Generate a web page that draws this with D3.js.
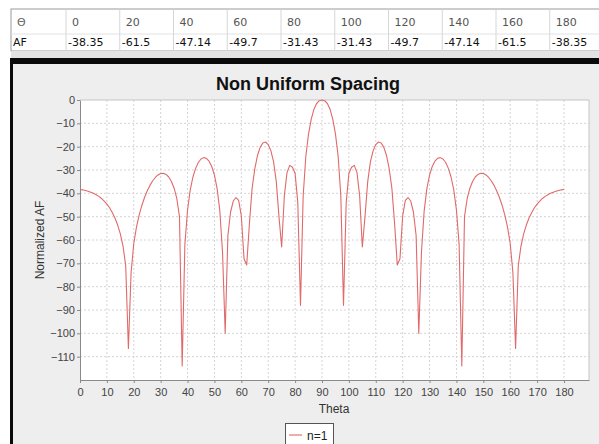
<!DOCTYPE html>
<html>
<head>
<meta charset="utf-8">
<script src="https://cdn.jsdelivr.net/npm/d3@7"></script>
<style>
  body { margin: 0; background: #ffffff; }
  text { font-family: "Liberation Sans", Arial, sans-serif; }
</style>
</head>
<body>
<script>
'use strict';

// table at the top
const tableTheta = ["0", "20", "40", "60", "80", "100", "120", "140", "160", "180"];
const tableAF = ["-38.35", "-61.5", "-47.14", "-49.7", "-31.43", "-31.43", "-49.7", "-47.14", "-61.5", "-38.35"];

// curve samples, one per degree
const theta = d3.range(0, 181);
const afValues = [
  -38.35, -38.5, -38.8, -39.1, -39.5, -40.0, -40.6, -41.3, -42.2, -43.3,
  -44.6, -46.2, -48.2, -50.6, -53.6, -57.4, -62.6, -71.0, -106.5, -74.0,
  -61.5, -54.5, -49.3, -45.2, -41.8, -39.0, -36.6, -34.7, -33.2, -32.1,
  -31.5, -31.4, -31.9, -33.0, -34.9, -37.8, -42.2, -50.0, -114.0, -62.0,
  -47.14, -38.5, -33.0, -29.3, -26.8, -25.3, -24.7, -25.0, -26.2, -28.5,
  -32.2, -38.0, -47.5, -65.0, -100.0, -58.0, -48.0, -43.3, -41.8, -43.0,
  -49.7, -68.0, -70.7, -53.0, -38.0, -29.5, -23.8, -20.3, -18.4, -18.0,
  -19.1, -21.8, -26.5, -35.0, -50.0, -63.0, -41.0, -31.0, -28.0, -28.8,
  -31.43, -44.0, -88.0, -41.0, -24.0, -14.5, -8.2, -4.0, -1.5, -0.3,
  0,
  -0.3, -1.5, -4.0, -8.2, -14.5, -24.0, -41.0, -88.0, -44.0, -31.43,
  -28.8, -28.0, -31.0, -41.0, -63.0, -50.0, -35.0, -26.5, -21.8, -19.1,
  -18.0, -18.4, -20.3, -23.8, -29.5, -38.0, -53.0, -70.7, -68.0, -49.7,
  -43.0, -41.8, -43.3, -48.0, -58.0, -100.0, -65.0, -47.5, -38.0, -32.2,
  -28.5, -26.2, -25.0, -24.7, -25.3, -26.8, -29.3, -33.0, -38.5, -47.14,
  -62.0, -114.0, -50.0, -42.2, -37.8, -34.9, -33.0, -31.9, -31.4, -31.5,
  -32.1, -33.2, -34.7, -36.6, -39.0, -41.8, -45.2, -49.3, -54.5, -61.5,
  -74.0, -106.5, -71.0, -62.6, -57.4, -53.6, -50.6, -48.2, -46.2, -44.6,
  -43.3, -42.2, -41.3, -40.6, -40.0, -39.5, -39.1, -38.8, -38.5, -38.35
];

const xTicks = d3.range(0, 181, 10);
const yTicks = d3.range(0, -111, -10);
const seriesName = "n=1";

(function () {

  let svg = "";

  window.onload = function () {
    svg = d3.select('body')
      .append('svg')
      .attr('width', 599)
      .attr('height', 444);

    makeTable();
    makePanel();

    let map = drawAxes({ min: 80, max: 589 }, { min: 100, max: 380 });
    plotData(map);
    makeLabels();
    makeLegend();
  }

  // the little value table above the chart
  function makeTable() {
    let colX = d3.range(0, 11).map((i) => 66 + i * 53.75);

    svg.append('rect')
      .attr('x', 11).attr('y', 9)
      .attr('width', 600).attr('height', 42)
      .attr('fill', '#ffffff')
      .attr('stroke', '#9a9a9a');

    svg.append('line')
      .attr('x1', 11).attr('x2', 599)
      .attr('y1', 34).attr('y2', 34)
      .attr('stroke', '#e2e2e2');

    svg.selectAll('.colLine')
      .data(colX)
      .enter()
      .append('line')
      .attr('class', 'colLine')
      .attr('x1', (d) => d).attr('x2', (d) => d)
      .attr('y1', 9).attr('y2', 51)
      .attr('stroke', '#d6d6d6');

    svg.append('text')
      .attr('x', 17).attr('y', 26)
      .style('font-family', 'DejaVu Sans')
      .style('font-size', '11px')
      .attr('fill', '#666')
      .text('\u0398');

    svg.append('text')
      .attr('x', 13).attr('y', 46)
      .style('font-family', 'DejaVu Sans')
      .style('font-size', '11px')
      .attr('fill', '#111')
      .text('AF');

    svg.selectAll('.thetaCell')
      .data(tableTheta)
      .enter()
      .append('text')
      .attr('class', 'thetaCell')
      .attr('x', (d, i) => colX[i] + 6)
      .attr('y', 26)
      .style('font-family', 'DejaVu Sans')
      .style('font-size', '11px')
      .attr('fill', '#555')
      .text((d) => d);

    svg.selectAll('.afCell')
      .data(tableAF)
      .enter()
      .append('text')
      .attr('class', 'afCell')
      .attr('x', (d, i) => colX[i] + 2)
      .attr('y', 46)
      .style('font-family', 'DejaVu Sans')
      .style('font-size', '11px')
      .attr('fill', '#111')
      .text((d) => d);

    // grey strip + thick black divider
    svg.append('rect')
      .attr('x', 11).attr('y', 51)
      .attr('width', 588).attr('height', 7)
      .attr('fill', '#e3e3e3');

    svg.append('rect')
      .attr('x', 10).attr('y', 58)
      .attr('width', 589).attr('height', 6)
      .attr('fill', '#0a0a0a');
  }

  // chart panel background with black left edge
  function makePanel() {
    svg.append('rect')
      .attr('x', 13).attr('y', 64)
      .attr('width', 586).attr('height', 380)
      .attr('fill', '#eeeeee');

    svg.append('rect')
      .attr('x', 10).attr('y', 64)
      .attr('width', 3).attr('height', 380)
      .attr('fill', '#0a0a0a');
  }

  // draw the axes, grid and plot area
  function drawAxes(rangeX, rangeY) {
    let xScale = d3.scaleLinear()
      .domain([0, 189.3])
      .range([rangeX.min, rangeX.max]);

    let yScale = d3.scaleLinear()
      .domain([-120, 0])
      .range([rangeY.max, rangeY.min]);

    svg.append('rect')
      .attr('x', rangeX.min).attr('y', rangeY.min)
      .attr('width', rangeX.max - rangeX.min)
      .attr('height', rangeY.max - rangeY.min)
      .attr('fill', '#ffffff');

    // grid lines
    svg.selectAll('.vGrid')
      .data(xTicks.filter((d) => d > 0))
      .enter()
      .append('line')
      .attr('class', 'vGrid')
      .attr('x1', (d) => xScale(d)).attr('x2', (d) => xScale(d))
      .attr('y1', rangeY.min).attr('y2', rangeY.max)
      .attr('stroke', '#d4d4d4')
      .attr('stroke-dasharray', '2,2');

    svg.selectAll('.hGrid')
      .data(yTicks.filter((d) => d < 0))
      .enter()
      .append('line')
      .attr('class', 'hGrid')
      .attr('x1', rangeX.min).attr('x2', rangeX.max)
      .attr('y1', (d) => yScale(d)).attr('y2', (d) => yScale(d))
      .attr('stroke', '#d4d4d4')
      .attr('stroke-dasharray', '2,2');

    // plot outline (top / right)
    svg.append('path')
      .attr('d', 'M' + rangeX.min + ',' + rangeY.min + 'H' + rangeX.max + 'V' + rangeY.max)
      .attr('fill', 'none')
      .attr('stroke', '#c4c4c4');

    let xAxis = d3.axisBottom(xScale).tickValues(xTicks).tickSize(3).tickSizeOuter(0);
    let gx = svg.append('g')
      .attr('transform', 'translate(0,' + rangeY.max + ')')
      .call(xAxis);

    let yAxis = d3.axisLeft(yScale).tickValues(yTicks).tickSize(3).tickSizeOuter(0);
    let gy = svg.append('g')
      .attr('transform', 'translate(' + rangeX.min + ',0)')
      .call(yAxis);

    [gx, gy].forEach((g) => {
      g.select('.domain').attr('stroke', '#8a8a8a');
      g.selectAll('.tick line').attr('stroke', '#8a8a8a');
      g.selectAll('.tick text')
        .attr('fill', '#444')
        .style('font-family', '"Liberation Sans", Arial, sans-serif')
        .style('font-size', '11px');
    });
    gx.selectAll('.tick text').attr('dy', '0.95em');
    gy.selectAll('.tick text').attr('x', -5);

    return {
      xScale: xScale,
      yScale: yScale
    };
  }

  function plotData(map) {
    let xScale = map.xScale;
    let yScale = map.yScale;

    const line = d3.line()
      .x((d, i) => xScale(theta[i]))
      .y((d) => yScale(d));

    svg.append('path')
      .datum(afValues)
      .attr('class', 'line')
      .attr('d', line)
      .attr('fill', 'none')
      .attr('stroke', '#e06a6a')
      .attr('stroke-width', 1.1)
      .attr('stroke-linejoin', 'round');
  }

  // title and axis labels
  function makeLabels() {
    svg.append('text')
      .attr('x', 308)
      .attr('y', 90)
      .attr('text-anchor', 'middle')
      .style('font-size', '18px')
      .style('font-weight', 'bold')
      .attr('fill', '#111')
      .text('Non Uniform Spacing');

    svg.append('text')
      .attr('x', 334)
      .attr('y', 413)
      .attr('text-anchor', 'middle')
      .style('font-size', '12px')
      .attr('fill', '#333')
      .text('Theta');

    svg.append('text')
      .attr('transform', 'translate(44, 240)rotate(-90)')
      .attr('text-anchor', 'middle')
      .style('font-size', '12px')
      .attr('fill', '#333')
      .text('Normalized AF');
  }

  function makeLegend() {
    svg.append('rect')
      .attr('x', 285.5).attr('y', 423.5)
      .attr('width', 48).attr('height', 24)
      .attr('fill', '#ffffff')
      .attr('stroke', '#555');

    svg.append('line')
      .attr('x1', 289).attr('x2', 302)
      .attr('y1', 435).attr('y2', 435)
      .attr('stroke', '#e06a6a')
      .attr('stroke-width', 1.1);

    svg.append('text')
      .attr('x', 307)
      .attr('y', 440)
      .style('font-size', '12px')
      .attr('fill', '#222')
      .text(seriesName);
  }

})();
</script>
</body>
</html>
